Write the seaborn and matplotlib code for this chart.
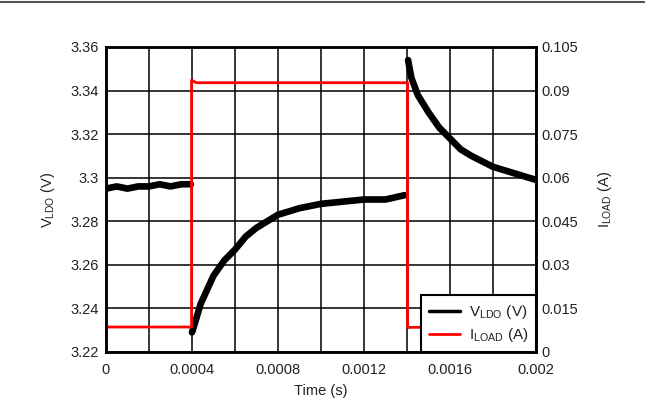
import seaborn as sns
import matplotlib.pyplot as plt
import pandas as pd

t_v = [0, 0.00005, 0.0001, 0.00015, 0.0002, 0.00025, 0.0003, 0.00035, 0.000395,
       0.0004, 0.00041, 0.00044, 0.0005, 0.00055, 0.0006, 0.00065, 0.0007,
       0.0008, 0.0009, 0.001, 0.0011, 0.0012, 0.0013, 0.00139,
       0.001405, 0.00142, 0.00145, 0.0015, 0.00155, 0.0016, 0.00165, 0.0017,
       0.0018, 0.0019, 0.002]
v_ldo = [3.295, 3.296, 3.295, 3.296, 3.296, 3.297, 3.296, 3.297, 3.297,
         3.229, 3.232, 3.242, 3.255, 3.262, 3.267, 3.273, 3.277,
         3.283, 3.286, 3.288, 3.289, 3.290, 3.290, 3.292,
         3.354, 3.346, 3.338, 3.330, 3.323, 3.318, 3.313, 3.310,
         3.305, 3.302, 3.299]
# trace pieces between the load steps (the scope shows no edge on V)
v_piece = [0] * 9 + [1] * 15 + [2] * 11

t_i = [0, 0.000398, 0.000398, 0.00042, 0.0007, 0.001, 0.001403, 0.001403, 0.00142, 0.002]
i_load = [0.0086, 0.0086, 0.0936, 0.0927, 0.0927, 0.0927, 0.0927, 0.0084, 0.0085, 0.0085]

x_ticks = [0, 0.0002, 0.0004, 0.0006, 0.0008, 0.001, 0.0012, 0.0014, 0.0016, 0.0018, 0.002]
x_labels = ["0", "", "0.0004", "", "0.0008", "", "0.0012", "", "0.0016", "", "0.002"]
v_ticks = [3.22, 3.24, 3.26, 3.28, 3.30, 3.32, 3.34, 3.36]
v_labels = ["3.22", "3.24", "3.26", "3.28", "3.3", "3.32", "3.34", "3.36"]
i_ticks = [0, 0.015, 0.03, 0.045, 0.06, 0.075, 0.09, 0.105]
i_labels = ["0", "0.015", "0.03", "0.045", "0.06", "0.075", "0.09", "0.105"]

df_v = pd.DataFrame({"t": t_v, "v": v_ldo, "piece": v_piece})
df_i = pd.DataFrame({"t": t_i, "i": i_load})

sns.set_style("white")
plt.rcParams["font.family"] = ["Liberation Sans", "DejaVu Sans"]
plt.rcParams["mathtext.fontset"] = "custom"
plt.rcParams["mathtext.rm"] = "Liberation Sans"

fig = plt.figure(figsize=(6.45, 4.13), dpi=100)
ax = fig.add_axes([0.1643, 0.1477, 0.6667, 0.7385])
ax2 = ax.twinx()

sns.lineplot(data=df_v, x="t", y="v", units="piece", ax=ax, color="black", linewidth=4.8,
             sort=False, estimator=None, legend=False)
sns.lineplot(data=df_i, x="t", y="i", ax=ax2, color="#ff0000", linewidth=2,
             sort=False, estimator=None, legend=False)

ax.set_xlim(0, 0.002)
ax.set_ylim(3.22, 3.36)
ax2.set_ylim(0, 0.105)
ax.set_xticks(x_ticks)
ax.set_xticklabels(x_labels)
ax.set_yticks(v_ticks)
ax.set_yticklabels(v_labels)
ax2.set_yticks(i_ticks)
ax2.set_yticklabels(i_labels)

tc = "#222222"
ax.grid(True, color="black", linewidth=1.1)
ax.tick_params(axis="y", length=0, labelsize=10.5, labelcolor=tc, pad=5)
ax.tick_params(axis="x", length=0, labelsize=10.5, labelcolor=tc, pad=8)
ax2.tick_params(length=0, labelsize=10.5, labelcolor=tc, pad=4)
ax.set_xlabel("Time (s)", fontsize=10.5, color=tc, labelpad=5)
ax.set_ylabel(r"V$_{\mathrm{LDO}}$ (V)", fontsize=10.5, color=tc, labelpad=10)
ax2.set_ylabel(r"I$_{\mathrm{LOAD}}$ (A)", fontsize=10.5, color=tc, labelpad=13)

for a in (ax, ax2):
    for s in a.spines.values():
        s.set_color("black")
        s.set_linewidth(1.8)

handles = [plt.Line2D([], [], color="black", linewidth=2.5),
           plt.Line2D([], [], color="#ff0000", linewidth=2)]
labels = [r"V$_{\mathrm{LDO}}$ (V)", r"I$_{\mathrm{LOAD}}$ (A)"]
leg = ax2.legend(handles, labels, loc="lower right", fontsize=11,
                 frameon=True, fancybox=False, borderaxespad=0,
                 handlelength=2.0, handletextpad=0.6, labelspacing=0.35,
                 borderpad=0.5)
leg.get_frame().set_edgecolor("black")
leg.get_frame().set_linewidth(1.5)
leg.get_frame().set_alpha(1)
for txt in leg.get_texts():
    txt.set_color(tc)

fig.add_artist(plt.Line2D([0, 1], [0.994, 0.994], color="#555555", linewidth=1.5))

plt.savefig("out.png", dpi=100)
